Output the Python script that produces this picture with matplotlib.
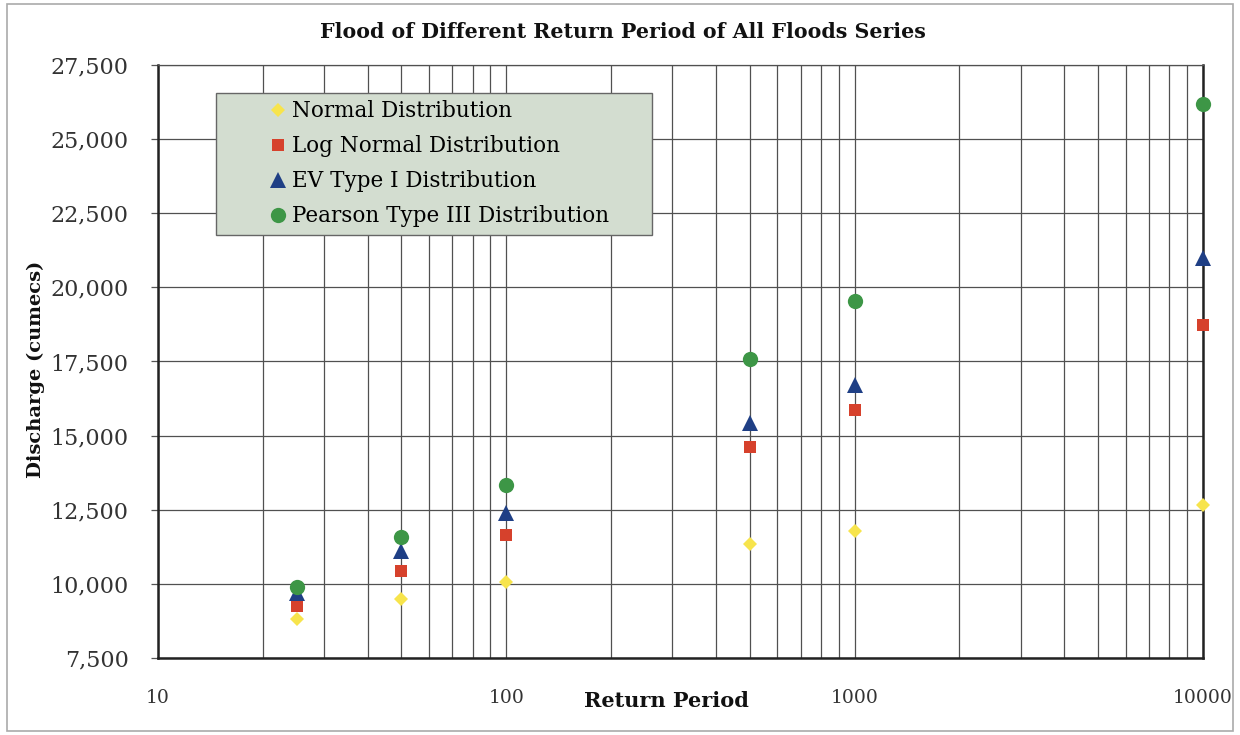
import matplotlib
matplotlib.use("Agg")
import matplotlib.pyplot as plt
from matplotlib.ticker import FixedLocator, FuncFormatter, NullFormatter

# Return periods (years)
return_periods = [25, 50, 100, 500, 1000, 10000]

# Flood discharge (cumecs) estimated by each distribution
normal = [8800, 9500, 10050, 11350, 11780, 12650]
log_normal = [9250, 10450, 11650, 14600, 15850, 18730]
ev_type1 = [9700, 11100, 12390, 15420, 16700, 20990]
pearson3 = [9880, 11580, 13350, 17600, 19530, 26180]

series_names = ["Normal Distribution", "Log Normal Distribution",
                "EV Type I Distribution", "Pearson Type III Distribution"]

y_ticks = [7500, 10000, 12500, 15000, 17500, 20000, 22500, 25000, 27500]
x_ticks = [10, 100, 1000, 10000]

plt.rcParams["font.family"] = ["DejaVu Serif"]

fig = plt.figure(figsize=(12.4, 7.35), dpi=100)
ax = fig.add_axes([0.1274, 0.1048, 0.8427, 0.8068])

ax.set_xscale("log")
ax.set_xlim(10, 10000)
ax.set_ylim(7500, 27500)

styles = [
    dict(marker="D", color="#f7e44c", ms=7.5),
    dict(marker="s", color="#d6412c", ms=8),
    dict(marker="^", color="#1f3f85", ms=11.5),
    dict(marker="o", color="#3d9646", ms=11),
]
for vals, name, st in zip([normal, log_normal, ev_type1, pearson3], series_names, styles):
    ax.plot(return_periods, vals, linestyle="none", marker=st["marker"],
            color=st["color"], markersize=st["ms"], markeredgewidth=0,
            label=name, zorder=5, clip_on=False)

# grid: decades and minor subdivisions drawn the same way
minor = [m * 10 ** e for e in range(1, 4) for m in range(2, 10)]
ax.xaxis.set_major_locator(FixedLocator(x_ticks))
ax.xaxis.set_minor_locator(FixedLocator(minor))
ax.xaxis.set_minor_formatter(NullFormatter())
ax.xaxis.set_major_formatter(FuncFormatter(lambda v, p: f"{int(v)}"))
ax.yaxis.set_major_locator(FixedLocator(y_ticks))
ax.yaxis.set_major_formatter(FuncFormatter(lambda v, p: f"{int(v):,}"))

ax.grid(True, which="both", axis="x", color="#505050", linewidth=0.9)
ax.grid(True, which="major", axis="y", color="#505050", linewidth=0.9)
ax.set_axisbelow(True)

ax.tick_params(axis="x", which="both", length=0, pad=22, labelsize=13.5, labelcolor="#333333")
ax.tick_params(axis="y", which="major", length=5, width=0.9, color="#555555",
               pad=16, labelsize=16, labelcolor="#333333")

for side in ["left", "bottom", "right"]:
    ax.spines[side].set_linewidth(1.8)
    ax.spines[side].set_color("#222222")
ax.spines["top"].set_linewidth(0.9)
ax.spines["top"].set_color("#505050")

fig.text(0.502, 1 - 32 / 735, "Flood of Different Return Period of All Floods Series",
         ha="center", va="center", fontsize=14.8, fontweight="bold", color="#111111")
ax.set_ylabel("Discharge (cumecs)", fontsize=14, fontweight="bold", color="#111111")
ax.yaxis.set_label_coords(-0.108, 0.486)
ax.set_xlabel("Return Period", fontsize=15, fontweight="bold", color="#111111")
ax.xaxis.set_label_coords(0.487, -0.055)

leg = ax.legend(loc="upper left", bbox_to_anchor=(0.0555, 0.3, 0.417, 0.653),
                mode="expand", fontsize=15.5, frameon=True, fancybox=False,
                framealpha=1, borderpad=0.35, labelspacing=0.6,
                handlelength=5.05, handletextpad=-1.88, borderaxespad=0)
leg.get_frame().set_facecolor("#d3ddd0")
leg.get_frame().set_edgecolor("#666666")
leg.get_frame().set_linewidth(1.0)
leg.set_zorder(10)

# outer frame around the figure
fig.patches.append(plt.Rectangle((0.006, 0.006), 0.988, 0.988, transform=fig.transFigure,
                                 fill=False, edgecolor="#aaaaaa", linewidth=1.2))

fig.savefig("out.png", dpi=100)
